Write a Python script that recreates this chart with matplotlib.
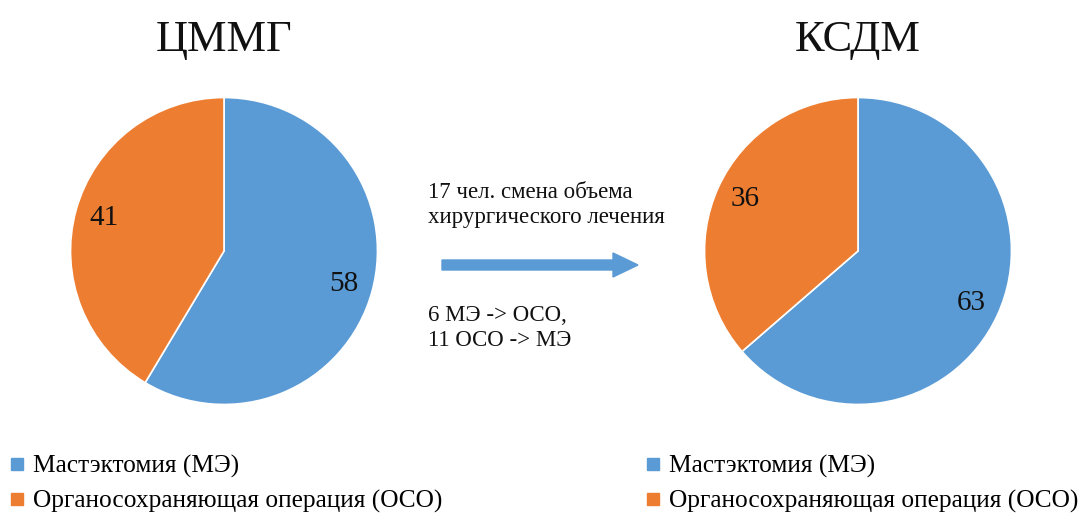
import matplotlib.pyplot as plt
from matplotlib.lines import Line2D

plt.rcParams['font.family'] = ['Liberation Serif', 'DejaVu Serif']

# slice order: mastectomy first, then organ-preserving surgery
categories = ["Мастэктомия (МЭ)", "Органосохраняющая операция (ОСО)"]
titles = ["ЦММГ", "КСДМ"]
values_cmmg = [58, 41]
values_ksdm = [63, 36]
colors = ["#5B9BD5", "#ED7D31"]

W, H = 1082, 513
fig = plt.figure(figsize=(W / 100, H / 100), dpi=100)


# place an axes by pixel box (left, top, width, height)
def px_axes(x, y, w, h):
  return fig.add_axes([x / W, 1 - (y + h) / H, w / W, h / H])


def draw_pie(cx, values, title):
  r = 155
  ax = px_axes(cx - r, 251 - r, 2 * r, 2 * r)
  ax.pie(values, colors=colors, startangle=90, counterclock=False,
         autopct=lambda p: "%d" % round(p * sum(values) / 100),
         pctdistance=0.81,
         textprops={"fontsize": 21, "color": "#111111"},
         wedgeprops={"edgecolor": "white", "linewidth": 1.2})
  ax.set_xlim(-1.01, 1.01)
  ax.set_ylim(-1.01, 1.01)
  fig.text(cx / W, 1 - 40 / H, title, ha="center", va="center",
           fontsize=32, color="#111111")


draw_pie(224, values_cmmg, titles[0])
draw_pie(858, values_ksdm, titles[1])

# legends under each pie
handles = [Line2D([], [], marker="s", linestyle="", color=c, markersize=8)
           for c in colors]
for x0 in (8, 644):
  fig.legend(handles, categories, loc="upper left",
             bbox_to_anchor=(x0 / W, 1 - 455 / H), frameon=False,
             fontsize=18.3, handlelength=0.7, handletextpad=0.3,
             labelspacing=0.45, borderpad=0, borderaxespad=0)

# note and arrow between the pies
fig.text(428 / W, 1 - 205 / H, "17 чел. смена объема\nхирургического лечения",
         ha="left", va="center", fontsize=16.5, linespacing=1.3, color="#111111")
fig.text(428 / W, 1 - 328 / H, "6 МЭ -> ОСО,\n11 ОСО -> МЭ",
         ha="left", va="center", fontsize=16.5, linespacing=1.3, color="#111111")
fig.patches.append(plt.matplotlib.patches.FancyArrow(
    442 / W, 1 - 265 / H, 196 / W, 0, width=10 / H, head_width=24 / H,
    head_length=25 / W, length_includes_head=True, color=colors[0],
    transform=fig.transFigure))

fig.savefig("out.png", dpi=100)
